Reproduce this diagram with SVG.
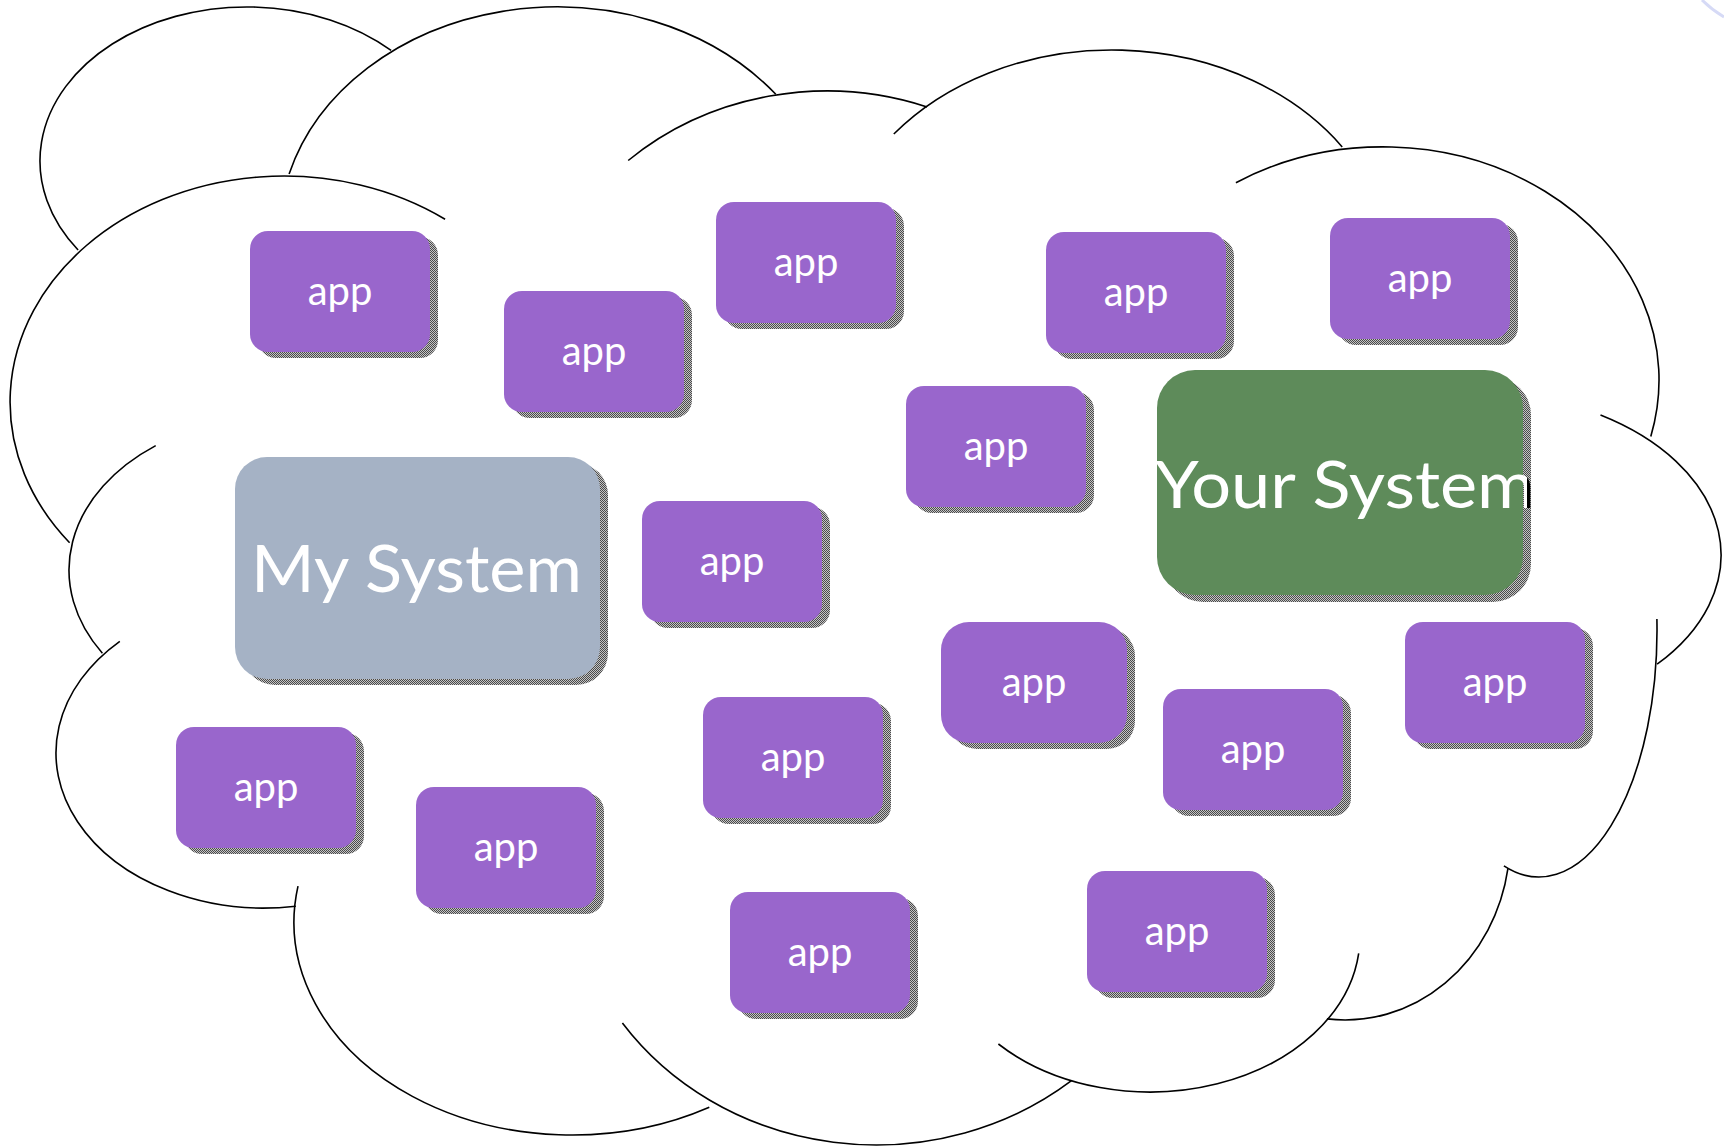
<svg xmlns="http://www.w3.org/2000/svg" width="1724" height="1148" viewBox="0 0 1724 1148">
<style>
.arc{fill:none;stroke:#000;stroke-width:1.6}
.sh{fill:url(#dither)}
.app{fill:#9966CC}
.t{font-family:Lato,"Open Sans","Liberation Sans",sans-serif;fill:#fff;text-anchor:middle;font-size:40px}
.big{font-family:Lato,"Open Sans","Liberation Sans",sans-serif;font-size:65px}
</style>
<defs>
<pattern id="dither" width="2" height="2" patternUnits="userSpaceOnUse">
<rect width="2" height="2" fill="#c4c4c4"/>
<rect width="1" height="1" fill="#4a4a4a"/>
<rect x="1" y="1" width="1" height="1" fill="#4a4a4a"/>
</pattern>
<clipPath id="inBox"><rect x="1100" y="360" width="427" height="260"/></clipPath>
<clipPath id="outBox"><rect x="1527" y="360" width="60" height="260"/></clipPath>
</defs>
<rect width="1724" height="1148" fill="#fff"/>
<g id="cloud">
<path class="arc" d="M78.1,250 A207,154 0 0 1 391.1,50.4"/>
<path class="arc" d="M289.1,174.1 A278,228 0 0 1 775.8,94.3"/>
<path class="arc" d="M628.2,160.5 A300,277 0 0 1 927.1,106.9"/>
<path class="arc" d="M893.8,134 A280,225 0 0 1 1342.2,146.9"/>
<path class="arc" d="M1235.9,182.8 A276,233 0 0 1 1650.8,436.4"/>
<path class="arc" d="M1600.5,415.1 A250,163.5 0 0 1 1657.1,664.2"/>
<path class="arc" d="M1656.9,619 A118,247 0 0 1 1503.9,865.8"/>
<path class="arc" d="M1508,868.2 A165,180 0 0 1 1326.9,1018.9"/>
<path class="arc" d="M1358.7,953.4 A210,156 0 0 1 998.4,1044"/>
<path class="arc" d="M1071.5,1080.7 A310,287 0 0 1 622.4,1023"/>
<path class="arc" d="M709.3,1107.2 A278,213 0 0 1 298,886.1"/>
<path class="arc" d="M295.8,906.2 A208,155 0 0 1 119.8,641.3"/>
<path class="arc" d="M102.4,653.2 A211,154 0 0 1 155.7,445.6"/>
<path class="arc" d="M69.6,542.7 A274,226 0 0 1 445.1,219.2"/>
<path d="M1702,0 Q1712,10 1724,17" fill="none" stroke="#d6daf6" stroke-width="3"/>
</g>
<g id="my-system">
<rect class="sh" x="243" y="463" width="365" height="222" rx="32"/>
<rect x="235" y="457" width="365" height="222" rx="32" fill="#A5B2C5"/>
<text class="big" x="251" y="592" fill="#fff" textLength="331" lengthAdjust="spacingAndGlyphs">My System</text>
</g>
<g id="your-system">
<rect class="sh" x="1165" y="377" width="366" height="225" rx="38"/>
<rect x="1157" y="370" width="366" height="225" rx="38" fill="#5E8B5A"/>
<text class="big" x="1155" y="508" fill="#fff" clip-path="url(#inBox)" textLength="380" lengthAdjust="spacingAndGlyphs">Your System</text>
<text class="big" x="1155" y="508" fill="#000" clip-path="url(#outBox)" textLength="380" lengthAdjust="spacingAndGlyphs">Your System</text>
</g>
<g id="app1"><rect class="sh" x="258" y="237" width="180" height="121" rx="18"/><rect class="app" x="250" y="231" width="180" height="121" rx="18"/><text class="t" x="340" y="305">app</text></g>
<g id="app2"><rect class="sh" x="512" y="297" width="180" height="121" rx="18"/><rect class="app" x="504" y="291" width="180" height="121" rx="18"/><text class="t" x="594" y="365">app</text></g>
<g id="app3"><rect class="sh" x="724" y="208" width="180" height="121" rx="18"/><rect class="app" x="716" y="202" width="180" height="121" rx="18"/><text class="t" x="806" y="276">app</text></g>
<g id="app4"><rect class="sh" x="1054" y="238" width="180" height="121" rx="18"/><rect class="app" x="1046" y="232" width="180" height="121" rx="18"/><text class="t" x="1136" y="306">app</text></g>
<g id="app5"><rect class="sh" x="1338" y="224" width="180" height="121" rx="18"/><rect class="app" x="1330" y="218" width="180" height="121" rx="18"/><text class="t" x="1420" y="292">app</text></g>
<g id="app6"><rect class="sh" x="914" y="392" width="180" height="121" rx="18"/><rect class="app" x="906" y="386" width="180" height="121" rx="18"/><text class="t" x="996" y="460">app</text></g>
<g id="app7"><rect class="sh" x="650" y="507" width="180" height="121" rx="18"/><rect class="app" x="642" y="501" width="180" height="121" rx="18"/><text class="t" x="732" y="575">app</text></g>
<g id="app8"><rect class="sh" x="949" y="628" width="186" height="121" rx="28"/><rect class="app" x="941" y="622" width="186" height="121" rx="28"/><text class="t" x="1034" y="696">app</text></g>
<g id="app9"><rect class="sh" x="1171" y="695" width="180" height="121" rx="18"/><rect class="app" x="1163" y="689" width="180" height="121" rx="18"/><text class="t" x="1253" y="763">app</text></g>
<g id="app10"><rect class="sh" x="1413" y="628" width="180" height="121" rx="18"/><rect class="app" x="1405" y="622" width="180" height="121" rx="18"/><text class="t" x="1495" y="696">app</text></g>
<g id="app11"><rect class="sh" x="711" y="703" width="180" height="121" rx="18"/><rect class="app" x="703" y="697" width="180" height="121" rx="18"/><text class="t" x="793" y="771">app</text></g>
<g id="app12"><rect class="sh" x="184" y="733" width="180" height="121" rx="18"/><rect class="app" x="176" y="727" width="180" height="121" rx="18"/><text class="t" x="266" y="801">app</text></g>
<g id="app13"><rect class="sh" x="424" y="793" width="180" height="121" rx="18"/><rect class="app" x="416" y="787" width="180" height="121" rx="18"/><text class="t" x="506" y="861">app</text></g>
<g id="app14"><rect class="sh" x="738" y="898" width="180" height="121" rx="18"/><rect class="app" x="730" y="892" width="180" height="121" rx="18"/><text class="t" x="820" y="966">app</text></g>
<g id="app15"><rect class="sh" x="1095" y="877" width="180" height="121" rx="18"/><rect class="app" x="1087" y="871" width="180" height="121" rx="18"/><text class="t" x="1177" y="945">app</text></g>
</svg>
